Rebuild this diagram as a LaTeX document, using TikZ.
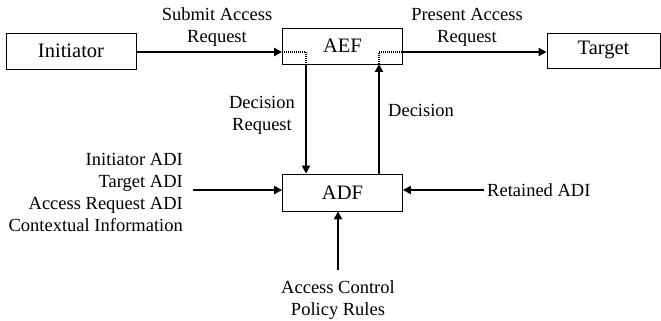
\documentclass[tikz,border=0pt]{standalone}
\usepackage{fontspec}
\setmainfont{Liberation Serif}
\usetikzlibrary{arrows.meta}
\begin{document}
\begin{tikzpicture}[x=1pt,y=-1pt,
  boxnode/.style={draw,line width=0.8pt,inner sep=0pt,font=\fontsize{20.5}{22}\selectfont},
  lbl/.style={inner sep=0pt,font=\fontsize{18.5}{22}\selectfont,align=center},
  flow/.style={line width=2.1pt,-{Triangle[length=8pt,width=8pt]}},
  dots/.style={line width=2pt,dash pattern=on 1pt off 1pt}]
\useasboundingbox (0,0) rectangle (661,321);
\node[boxnode,minimum width=130pt,minimum height=36pt] (ini) at (71,51) {Initiator};
\node[boxnode,minimum width=120pt,minimum height=36pt] (aef) at (342.5,46) {AEF};
\node[boxnode,minimum width=113pt,minimum height=35pt] (tgt) at (603.5,50.5) {Target};
\node[boxnode,minimum width=120pt,minimum height=37pt] (adf) at (342.5,192.5) {ADF};
% inner points of AEF
\coordinate (a1) at (306,52);
\coordinate (a2) at (306,64);
\coordinate (a3) at (379,64);
\coordinate (a4) at (379,52);
\coordinate (a5) at (403,52);
\coordinate (l1) at (193,190);
\coordinate (r1) at (484,190);
\coordinate (b1) at (338,270);
% connectors
\draw[flow] (ini.east |- 0,52) -- (aef.west |- 0,52);
\draw[dots] (aef.west |- 0,52) -- (a1) -- (a2);
\draw[flow] (a2) -- (adf.north -| a2);
\draw[flow] (adf.north -| a3) -- (a3);
\draw[dots] (a3) -- (a4) -- (a5);
\draw[flow] (a5) -- (tgt.west |- a5);
\draw[flow] (l1) -- (adf.west |- l1);
\draw[flow] (r1) -- (adf.east |- r1);
\draw[flow] (b1) -- (adf.south -| b1);
% labels
\node[lbl] (t1) at (217,27) {Submit Access\\Request};
\node[lbl] (t2) at (467,27) {Present Access\\Request};
\node[lbl] (t3) at (262,115) {Decision\\Request};
\node[lbl,anchor=west] (t4) at (388,110) {Decision};
\node[lbl,align=right,anchor=east] (t5) at (183,192) {Initiator ADI\\Target ADI\\Access Request ADI\\Contextual Information};
\node[lbl,anchor=west] (t6) at (487,190) {Retained ADI};
\node[lbl] (t7) at (338,300) {Access Control\\Policy Rules};
\end{tikzpicture}
\end{document}
